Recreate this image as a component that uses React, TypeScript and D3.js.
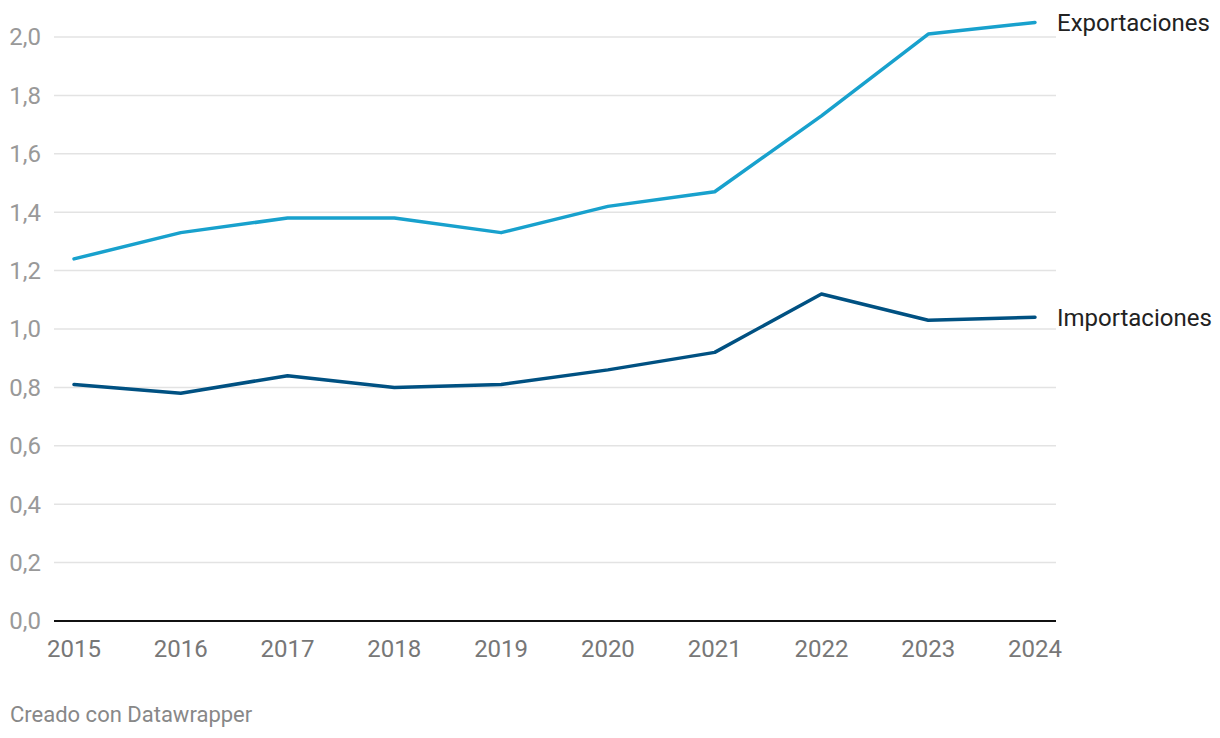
import React from "react";
import * as d3 from "d3";

const years = [2015, 2016, 2017, 2018, 2019, 2020, 2021, 2022, 2023, 2024];
const exportaciones = [1.24, 1.33, 1.38, 1.38, 1.33, 1.42, 1.47, 1.73, 2.01, 2.05];
const importaciones = [0.81, 0.78, 0.84, 0.8, 0.81, 0.86, 0.92, 1.12, 1.03, 1.04];
const yTicks = [0, 0.2, 0.4, 0.6, 0.8, 1.0, 1.2, 1.4, 1.6, 1.8, 2.0];

const W = 1220;
const H = 738;
const gridLeft = 54;
const gridRight = 1056;

export default function App() {
  const x = d3.scaleLinear().domain([2015, 2024]).range([74, 1035]);
  const y = d3.scaleLinear().domain([0, 2]).range([621, 37]);
  const line = d3
    .line<number>()
    .x((_, i) => x(years[i]))
    .y((d) => y(d));
  const fmt = (v: number) => v.toFixed(1).replace(".", ",");
  const font = "Roboto, sans-serif";
  const series = [
    { name: "Exportaciones", values: exportaciones, color: "#18a1cd" },
    { name: "Importaciones", values: importaciones, color: "#005182" },
  ];
  return (
    <svg
      width={W}
      height={H}
      style={{ position: "absolute", left: 0, top: 0, background: "#fff" }}
      fontFamily={font}
    >
      {yTicks.map((t) =>
        t === 0 ? null : (
          <line
            key={"g" + t}
            x1={gridLeft}
            x2={gridRight}
            y1={y(t)}
            y2={y(t)}
            stroke="#e3e3e3"
            strokeWidth={1.5}
          />
        )
      )}
      {yTicks.map((t) => (
        <text
          key={"t" + t}
          x={41}
          y={y(t)}
          dy="0.35em"
          textAnchor="end"
          fontSize={24}
          fill="#999"
        >
          {fmt(t)}
        </text>
      ))}
      <line x1={gridLeft} x2={gridRight} y1={y(0)} y2={y(0)} stroke="#111" strokeWidth={2} />
      {years.map((yr) => (
        <text
          key={"x" + yr}
          x={x(yr)}
          y={657}
          textAnchor="middle"
          fontSize={24}
          fill="#777"
        >
          {yr}
        </text>
      ))}
      {series.map((s) => (
        <g key={s.name}>
          <path
            d={line(s.values) || ""}
            fill="none"
            stroke={s.color}
            strokeWidth={3.5}
            strokeLinejoin="round"
            strokeLinecap="round"
          />
          <text
            x={1057}
            y={y(s.values[s.values.length - 1])}
            dy="0.35em"
            fontSize={24}
            fill="#222"
          >
            {s.name}
          </text>
        </g>
      ))}
      <text x={10} y={722} fontSize={22} fill="#888">
        Creado con Datawrapper
      </text>
    </svg>
  );
}
